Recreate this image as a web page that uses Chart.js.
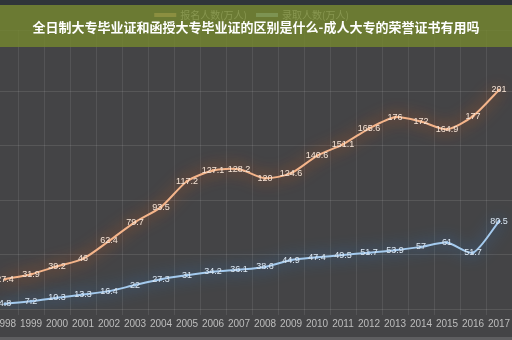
<!DOCTYPE html>
<html><head><meta charset="utf-8">
<script src="https://cdn.jsdelivr.net/npm/chart.js@4"></script>
<style>
html,body{margin:0;padding:0;background:#444446;}
#wrap{position:relative;width:512px;height:340px;overflow:hidden;background:#444446;}
#cv{position:absolute;left:-12px;top:0;}
#topstrip{position:absolute;left:0;top:0;width:512px;height:5px;background:#30353a;z-index:3;}
#band{position:absolute;left:0;top:5px;width:512px;height:42px;background:rgba(116,134,48,0.82);z-index:2;display:flex;align-items:center;justify-content:center;color:#fff;font-weight:bold;font-size:13px;font-family:"Noto Sans CJK SC",sans-serif;}
#bottomedge{position:absolute;left:0;top:337px;width:512px;height:3px;background:#5e5e60;z-index:2;}
</style></head>
<body>
<div id="wrap">
  <canvas id="cv" width="528" height="340"></canvas>
  <div id="topstrip"></div>
  <div id="band">全日制大专毕业证和函授大专毕业证的区别是什么-成人大专的荣誉证书有用吗</div>
  <div id="bottomedge"></div>
</div>
<script>
const years = ['1998','1999','2000','2001','2002','2003','2004','2005','2006','2007','2008','2009','2010','2011','2012','2013','2014','2015','2016','2017'];
const applicants = [27.4,31.9,39.2,46,62.4,79.7,93.5,117.2,127.1,128.2,120,124.6,140.6,151.1,165.6,176,172,164.9,177,201];
const admitted = [4.8,7.2,10.3,13.3,16.4,22,27.3,31,34.2,36.1,38.6,44.9,47.4,49.5,51.7,53.9,57,61,51.7,80.5];
const seriesNames = ['报名人数(万人)','录取人数(万人)'];

const glow = {
  id:'glow',
  beforeDatasetDraw(chart,args){
    const ctx = chart.ctx; ctx.save();
    ctx.shadowColor = args.index===0 ? 'rgba(230,100,30,1)' : 'rgba(55,130,215,1)';
    ctx.shadowBlur = 16;
  },
  afterDatasetDraw(chart){ chart.ctx.restore(); }
};
const labels = {
  id:'vlabels',
  afterDatasetsDraw(chart){
    const ctx = chart.ctx;
    chart.data.datasets.forEach((ds,di)=>{
      const meta = chart.getDatasetMeta(di);
      ctx.save();
      ctx.font = '9px "Liberation Sans", sans-serif';
      ctx.textAlign = 'center'; ctx.textBaseline = 'middle';
      ctx.fillStyle = di===0 ? '#f6e4d6' : '#dce8f4';
      meta.data.forEach((pt,i)=>{ ctx.fillText(String(ds.data[i]), pt.x, pt.y); });
      ctx.restore();
    });
  }
};

new Chart(document.getElementById('cv'), {
  type:'line',
  data:{
    labels: years,
    datasets:[
      {label:seriesNames[0], data:applicants, borderColor:'#f5b68c', backgroundColor:'#f5b68c', borderWidth:2, pointRadius:1.5, pointBorderWidth:0, tension:0.25},
      {label:seriesNames[1], data:admitted, borderColor:'#a6cbee', backgroundColor:'#a6cbee', borderWidth:2, pointRadius:1.5, pointBorderWidth:0, tension:0.25}
    ]
  },
  options:{
    responsive:false, devicePixelRatio:1, animation:false,
    layout:{padding:{top:0,bottom:7,left:0,right:0}},
    plugins:{
      legend:{position:'top', labels:{boxWidth:20, boxHeight:2, padding:10, color:'#dddddd', font:{size:10, family:'"Noto Sans CJK SC"'}}},
      tooltip:{enabled:false}
    },
    scales:{
      x:{offset:true, grid:{offset:true, color:'rgba(255,255,255,0.09)', tickLength:6}, border:{display:false},
         ticks:{color:'#bdbdbd', font:{size:10, family:'"Liberation Sans"'}, maxRotation:0, autoSkip:false, padding:3}},
      y:{min:0, max:256, grid:{color:'rgba(255,255,255,0.10)', drawTicks:false}, border:{display:false},
         ticks:{display:false, stepSize:50}}
    }
  },
  plugins:[glow, labels]
});
</script>
</body></html>
